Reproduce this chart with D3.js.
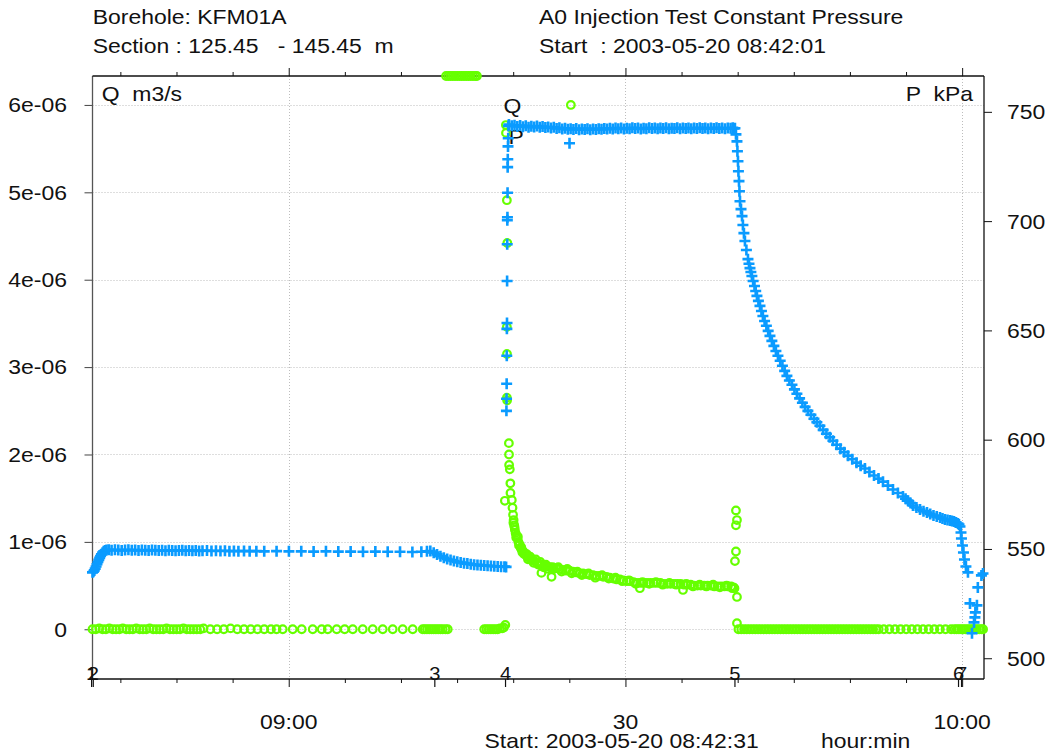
<!DOCTYPE html>
<html>
<head>
<meta charset="utf-8">
<script src="https://cdn.jsdelivr.net/npm/d3@7"></script>
<style>
  html, body { margin: 0; padding: 0; background: #fff; }
  svg { display: block; font-family: "Liberation Sans", Arial, Helvetica, sans-serif; }
  text { white-space: pre; fill: #111; }
</style>
</head>
<body>
<svg id="chart" width="1050" height="755"></svg>
<script>
// ---------------- header / axis text ----------------
const headerLeft = ["Borehole: KFM01A", "Section : 125.45   - 145.45  m"];
const headerRight = ["A0 Injection Test Constant Pressure", "Start  : 2003-05-20 08:42:01"];
const axisStartLabel = "Start: 2003-05-20 08:42:31";
const axisUnitLabel = "hour:min";
const flowAxisTitle = "Q  m3/s";
const pressureAxisTitle = "P  kPa";

// flow axis (left) and pressure axis (right)
const flowTicks = [0, 1e-6, 2e-6, 3e-6, 4e-6, 5e-6, 6e-6];
const flowTickLabels = ["0", "1e-06", "2e-06", "3e-06", "4e-06", "5e-06", "6e-06"];
const pressureTicks = [500, 550, 600, 650, 700, 750];

// test events, minutes after 08:42:31
const eventLabels = ["1", "2", "3", "4", "5", "6", "7"];
const eventMinutes = [-0.08, 0.07, 30.5, 36.8, 57.24, 77.16, 77.43];

// ---------------- flow rate Q [1e-6 m3/s], [minute, value] ----------------
const flowBefore = [
  [0,0],[0.3,0],[0.6,0.01],[0.9,0],[1.2,0],[1.5,0.01],[1.8,0],[2.1,0],[2.4,0],[2.7,0.01],
  [3.0,0],[3.3,0],[3.6,0],[3.9,0.01],[4.2,0],[4.5,0],[4.8,0],[5.1,0.01],[5.4,0],[5.7,0],
  [6.0,0],[6.3,0],[6.6,0.01],[6.9,0],[7.2,0],[7.5,0],[7.8,0],[8.1,0.01],[8.4,0],[8.7,0],
  [9.0,0],[9.3,0],[9.6,0],[9.9,0.01],[10.5,0],[11.1,0],[11.7,0],[12.3,0.01],[12.9,0],[13.5,0],
  [14.1,0],[14.7,0],[15.3,0],[15.9,0],[16.4,0],[16.95,0],[17.84,0],[18.64,0],[19.62,0],[20.42,0],
  [20.96,0],[21.76,0],[22.47,0],[23.19,0],[24.08,0],[24.97,0],[25.86,0],[26.75,0],[27.64,0],[28.53,0],
  [29.42,0],[29.6,0],[29.8,0],[30.0,0],[30.2,0],[30.4,0],[30.6,0],[30.8,0],[31.0,0],[31.2,0],
  [31.45,0],[31.65,0]
];
// readings above the flow range (shown pinned to the upper frame)
const flowOverRange = [
  [31.5,9],[31.7,9],[31.9,9],[32.1,9],[32.3,9],[32.5,9],[32.7,9],[32.9,9],
  [33.1,9],[33.3,9],[33.5,9],[33.7,9],[33.9,9],[34.1,9],[34.25,9]
];
const flowPreInjection = [
  [34.9,0],[35.1,0],[35.3,0],[35.5,0],[35.7,0],[35.9,0],[36.1,0],[36.3,0.01],[36.5,0.01],[36.65,0.02],[36.78,0.05]
];
const flowInjection = [
  [36.83,5.77],[36.84,5.68],[36.92,4.91],[36.96,4.42],[36.92,3.46],[36.93,3.15],[36.92,2.65],[36.94,2.62],
  [37.10,2.13],[37.11,2.00],[37.12,1.88],[37.18,1.83],[37.23,1.67],[37.24,1.56],[36.74,1.47],
  [37.36,1.48],[37.42,1.39],[37.47,1.31],[37.52,1.25],[37.57,1.19],[37.63,1.14],[37.70,1.10],[37.78,1.07],
  [37.86,1.04],[37.95,1.00],[38.05,0.97],[38.15,0.93],[38.25,0.91],[38.38,0.89],[38.50,0.87],[38.62,0.85],
  [38.75,0.83],[38.90,0.82],[39.05,0.80],[39.20,0.79],[39.40,0.78],[39.60,0.76],[39.80,0.75],[40.00,0.645],
  [40.00,0.74],[40.25,0.73],[40.50,0.72],[40.75,0.71],[40.90,0.60],[41.00,0.71],[41.30,0.70],[41.60,0.69],
  [41.90,0.68],[42.20,0.67],[42.50,0.67],[42.62,6.00],[42.80,0.66],[43.10,0.65],[43.40,0.64],[43.70,0.64],
  [44.00,0.63],[44.30,0.62],[44.60,0.62],[44.90,0.61],[45.20,0.61],[45.50,0.60],[45.80,0.60],[46.10,0.59],
  [46.40,0.58],[46.70,0.57],[47.00,0.57],[47.30,0.56],[47.60,0.55],[47.90,0.55],[48.20,0.54],[48.50,0.53],
  [48.77,0.47],[48.80,0.53],[49.10,0.53],[49.40,0.53],[49.70,0.53],[50.00,0.53],[50.30,0.53],[50.60,0.53],
  [50.90,0.52],[51.20,0.52],[51.50,0.52],[51.80,0.52],[52.10,0.52],[52.40,0.52],[52.61,0.45],[52.70,0.51],
  [53.00,0.51],[53.30,0.51],[53.60,0.50],[53.90,0.50],[54.20,0.50],[54.50,0.50],[54.80,0.50],[55.10,0.50],
  [55.40,0.49],[55.70,0.49],[56.00,0.49],[56.30,0.49],[56.60,0.49],[56.90,0.49],[57.10,0.48],[57.20,0.47],
  [57.33,1.36],[57.42,1.25],[57.33,1.19],[57.33,0.89],[57.24,0.78],[57.42,0.37],[57.42,0.07],
  // scattered readings along the decline
  [37.50,1.22],[37.60,1.17],[37.75,1.05],[37.90,1.06],[38.00,0.96],[38.20,0.94],[38.30,0.88],[38.45,0.86],
  [38.70,0.86],[38.80,0.80],[39.00,0.83],[39.30,0.76],[39.50,0.80],[39.70,0.74],[39.90,0.77],[40.20,0.71],
  [40.40,0.74],[40.60,0.69],[41.10,0.69],[41.50,0.71],[41.80,0.66],[42.30,0.69],[42.70,0.64],[43.20,0.66],
  [43.60,0.62],[44.20,0.64],[44.80,0.59],[45.40,0.62],[46.00,0.58],[46.60,0.59],[47.20,0.55],[47.80,0.56],
  [48.40,0.52],[49.00,0.54],[49.60,0.52],[50.20,0.54],[50.80,0.51],[51.40,0.53],[52.00,0.51],[52.90,0.52],
  [53.50,0.49],[54.10,0.51],[54.70,0.49],[55.30,0.51],[55.90,0.48],[56.50,0.50],[57.00,0.47]
];
const flowAfter = [
  [57.55,0],[57.8,0],[58.05,0],[58.3,0],[58.55,0],[58.8,0],[59.05,0],[59.3,0],[59.55,0],[59.8,0],
  [60.05,0],[60.3,0],[60.55,0],[60.8,0],[61.05,0],[61.3,0],[61.55,0],[61.8,0],[62.05,0],[62.3,0],
  [62.55,0],[62.8,0],[63.05,0],[63.3,0],[63.55,0],[63.8,0],[64.05,0],[64.3,0],[64.55,0],[64.8,0],
  [65.05,0],[65.3,0],[65.55,0],[65.8,0],[66.05,0],[66.3,0],[66.55,0],[66.8,0],[67.05,0],[67.3,0],
  [67.55,0],[67.8,0],[68.05,0],[68.3,0],[68.55,0],[68.8,0],[69.05,0],[69.3,0],[69.55,0],[69.8,0],
  [70.05,0],[70.5,0],[71.0,0],[71.5,0],[72.0,0],[72.5,0],[73.0,0],[73.5,0],[74.0,0],[74.5,0],
  [75.0,0],[75.5,0],[76.0,0],[76.5,0],[76.8,0],[77.0,0],[77.2,0],[77.4,0],[77.6,0],[77.8,0],
  [78.0,0],[78.2,0],[78.4,0],[78.6,0],[78.8,0],[79.0,0],[79.2,0],[79.35,0]
];

// ---------------- pressure P [kPa], [minute, value] ----------------
const pressureBefore = [
  [0.00,539.3],[0.08,539.6],[0.16,540.2],[0.24,541.0],[0.32,542.0],[0.40,543.0],[0.48,544.0],[0.56,545.0],
  [0.64,545.9],[0.72,546.8],[0.80,547.6],[0.90,548.3],[1.00,548.9],[1.12,549.3],[1.25,549.5],[1.45,549.6],
  [1.7,549.4],[2.0,549.6],[2.3,549.5],[2.6,549.3],[2.9,549.5],[3.2,549.6],[3.5,549.4],[3.8,549.5],
  [4.1,549.3],[4.4,549.5],[4.7,549.4],[5.0,549.3],[5.3,549.5],[5.6,549.4],[5.9,549.3],[6.2,549.4],
  [6.5,549.2],[6.8,549.4],[7.1,549.3],[7.4,549.2],[7.7,549.3],[8.0,549.4],[8.3,549.2],[8.6,549.3],
  [8.9,549.2],[9.2,549.3],[9.5,549.1],[9.8,549.2],[10.2,549.3],[10.6,549.1],[11.0,549.2],[11.4,549.1],
  [11.8,549.2],[12.2,549.0],[12.6,549.1],[13.0,549.0],[13.5,549.1],[14.0,549.0],[14.6,549.0],[15.3,548.9],
  [16.4,549.0],[17.5,548.9],[18.6,548.9],[19.7,548.8],[20.8,548.9],[21.9,548.8],[23.0,548.8],[24.1,548.7],
  [25.2,548.8],[26.3,548.7],[27.4,548.7],[28.5,548.6],[29.3,548.7],[29.8,548.9],[30.1,549.1],
  [30.4,548.3],[30.7,547.5],[31.0,546.7],[31.3,546.0],[31.6,545.4],[31.9,544.9],[32.2,544.5],[32.5,544.1],
  [32.8,543.8],[33.1,543.5],[33.4,543.3],[33.7,543.0],[34.0,542.8],[34.3,542.7],[34.6,542.5],[34.9,542.4],
  [35.2,542.3],[35.5,542.2],[35.8,542.1],[36.1,542.0],[36.4,541.9],[36.7,541.9],[36.85,541.8]
];
const pressureRise = [
  [36.88,613.2],[36.89,618.7],[36.90,625.6],[36.91,638.4],[36.92,650.7],[36.93,653.4],[36.94,672.6],
  [36.95,689.4],[36.96,700.4],[36.97,701.8],[36.98,713.0],[36.99,724.7],[37.00,728.3],[37.02,734.2],
  [37.04,737.9],[37.06,743.5]
];
const pressureInjection = [
  [37.10,744.2],[37.35,743.6],[37.60,743.9],[37.85,743.3],[38.10,743.7],[38.35,743.2],[38.60,743.6],[38.85,743.0],
  [39.10,743.4],[39.35,743.1],[39.60,743.5],[39.85,742.9],[40.10,743.3],[40.35,742.8],[40.60,743.1],[40.85,742.6],
  [41.10,742.9],[41.35,742.4],[41.60,742.7],[41.85,742.2],[42.10,742.5],[42.35,742.0],[42.50,735.6],[42.60,742.3],
  [42.85,741.9],[43.10,742.4],[43.35,741.8],[43.60,742.2],[43.85,741.9],[44.10,742.3],[44.35,741.8],[44.60,742.1],
  [44.85,741.9],[45.10,742.3],[45.35,742.0],[45.60,742.4],[45.85,742.1],[46.10,742.5],[46.35,742.2],[46.60,742.6],
  [46.85,742.3],[47.10,742.6],[47.35,742.2],[47.60,742.5],[47.85,742.3],[48.10,742.7],[48.35,742.4],[48.60,742.6],
  [48.85,742.2],[49.10,742.5],[49.35,742.3],[49.60,742.7],[49.85,742.4],[50.10,742.6],[50.35,742.3],[50.60,742.6],
  [50.85,742.4],[51.10,742.7],[51.35,742.3],[51.60,742.5],[51.85,742.4],[52.10,742.7],[52.35,742.3],[52.60,742.6],
  [52.85,742.4],[53.10,742.6],[53.35,742.3],[53.60,742.6],[53.85,742.4],[54.10,742.7],[54.35,742.4],[54.60,742.6],
  [54.85,742.3],[55.10,742.6],[55.35,742.4],[55.60,742.7],[55.85,742.4],[56.10,742.6],[56.35,742.3],[56.60,742.6],
  [56.85,742.5],[57.05,742.7],[57.15,742.4]
];
const pressureRecovery = [
  [57.24,742.5],[57.33,739.7],[57.42,736.5],[57.46,732.0],[57.51,727.4],[57.55,722.8],[57.60,718.3],[57.64,713.7],
  [57.69,709.1],[57.78,705.5],[57.87,702.3],[57.95,698.2],[58.04,694.5],[58.13,690.9],[58.26,686.8],[58.40,682.6],
  [58.49,680.5],[58.58,678.5],[58.66,676.7],[58.75,674.9],[58.86,672.6],[58.98,670.3],[59.09,668.0],[59.20,665.8],
  [59.33,663.5],[59.47,661.2],[59.60,658.9],[59.73,656.6],[59.88,654.3],[60.04,652.1],[60.20,649.8],[60.36,647.5],
  [60.53,645.2],[60.71,642.9],[60.89,640.6],[61.07,638.4],[61.27,636.1],[61.47,633.8],[61.67,631.5],[61.87,629.2],
  [62.09,627.1],[62.32,625.1],[62.54,623.0],[62.76,621.0],[63.00,618.9],[63.25,616.9],[63.49,615.0],[63.74,613.2],
  [64.01,611.4],[64.28,609.6],[64.54,608.0],[64.81,606.4],[65.10,604.5],[65.39,602.7],[65.68,601.1],[65.97,599.5],
  [66.30,597.7],[66.64,595.9],[66.97,594.3],[67.31,592.7],[67.69,591.1],[68.07,589.5],[68.44,588.1],[68.82,586.8],
  [69.22,585.2],[69.63,583.6],[70.03,582.2],[70.43,580.8],[70.87,579.0],[71.32,577.2],[71.76,575.6],[72.21,574.0],
  [72.44,573.0],[72.66,572.1],[72.88,571.0],[73.10,569.9],[73.41,569.0],[73.73,568.0],[74.04,567.3],[74.35,566.7],
  [74.64,566.0],[74.93,565.3],[75.22,564.8],[75.51,564.4],[75.73,563.9],[75.95,563.5],[76.18,563.2],[76.40,563.0],
  [76.58,562.8],[76.76,562.6],[76.94,562.1],[77.11,561.6],[77.20,561.2]
];
const pressureEnd = [
  [77.29,560.3],[77.38,557.5],[77.42,554.8],[77.51,551.6],[77.60,548.4],[77.69,545.2],[77.82,542.0],[78.00,539.3],
  [78.18,525.1],[78.36,511.4],[78.54,516.4],[78.62,518.7],[78.66,521.0],[78.80,524.2],[78.88,532.4],[79.20,537.9],
  [79.34,538.8]
];

// ---------------- layout ----------------
const svg = d3.select("#chart");
const plot = { left: 92.5, right: 984, top: 76, bottom: 679 };
const FONT = 20.5, SX = 1.12;            // text is drawn slightly widened
const FLOW_COLOR = "#66ff00", PRESSURE_COLOR = "#0a9bff";

const t0 = new Date(2003, 4, 20, 8, 42, 31);
const at = m => new Date(t0.getTime() + m * 60000);
const x = d3.scaleTime().domain([t0, at(79.43)]).range([plot.left, plot.right]);
const yQ = d3.scaleLinear().domain([-0.569e-6, 6.331e-6]).range([plot.bottom, plot.top]).clamp(true);
const yP = d3.scaleLinear().domain([490.5, 766.4]).range([plot.bottom, plot.top]).clamp(true);

function addText(parent, px, py, str, anchor = "start", size = FONT) {
  const g = parent.append("g").attr("transform", `translate(${px},${py}) scale(${SX},1)`);
  g.append("text").attr("text-anchor", anchor).attr("font-size", size).text(str);
  return g;
}

// headers
addText(svg, 92.7, 24, headerLeft[0]);
addText(svg, 92.7, 53, headerLeft[1]);
addText(svg, 539, 24, headerRight[0]);
addText(svg, 539, 53, headerRight[1]);

// grid
const grid = svg.append("g").attr("stroke", "#bdbdbd").attr("stroke-width", 1).attr("stroke-dasharray", "1,2");
grid.selectAll("line.h").data(flowTicks).join("line").attr("class", "h")
  .attr("x1", plot.left).attr("x2", plot.right)
  .attr("y1", d => Math.round(yQ(d)) + 0.5).attr("y2", d => Math.round(yQ(d)) + 0.5);
const majorTimes = x.ticks(d3.timeMinute.every(30));
grid.selectAll("line.v").data(majorTimes).join("line").attr("class", "v")
  .attr("y1", plot.top).attr("y2", plot.bottom)
  .attr("x1", d => Math.round(x(d)) + 0.5).attr("x2", d => Math.round(x(d)) + 0.5);

// time axes (bottom and top), ticks pointing outward
const minorTimes = x.ticks(d3.timeMinute.every(5)).filter(d => d.getMinutes() % 30 !== 0);
function timeAxis(axisFn, yPos) {
  const g = svg.append("g").attr("transform", `translate(0,${yPos})`);
  g.append("g").call(axisFn(x).tickValues(minorTimes).tickSize(4).tickSizeOuter(0).tickFormat(""))
    .call(s => s.select(".domain").remove());
  g.append("g").call(axisFn(x).tickValues(majorTimes).tickSize(8).tickSizeOuter(0).tickFormat(""))
    .call(s => s.select(".domain").remove());
  g.selectAll("line").attr("stroke", "#111");
}
timeAxis(d3.axisBottom, plot.bottom);
timeAxis(d3.axisTop, plot.top);

const fmtMajor = d => d.getMinutes() === 0 ? d3.timeFormat("%H:%M")(d) : d3.timeFormat("%M")(d);
majorTimes.forEach(d => addText(svg, x(d), 729, fmtMajor(d), "middle"));
addText(svg, 484.5, 748, axisStartLabel);
addText(svg, 821, 748, axisUnitLabel);

// flow axis (left)
const leftAxis = svg.append("g").attr("transform", `translate(${plot.left},0)`)
  .call(d3.axisLeft(yQ).tickValues(flowTicks).tickSize(8).tickFormat(""))
  .call(s => s.select(".domain").remove());
leftAxis.selectAll("line").attr("stroke", "#444");
flowTicks.forEach((d, i) => addText(svg, 67, yQ(d), flowTickLabels[i], "end").select("text").attr("dy", "0.36em"));

// pressure axis (right)
const rightAxis = svg.append("g").attr("transform", `translate(${plot.right},0)`)
  .call(d3.axisRight(yP).tickValues(pressureTicks).tickSize(8).tickFormat(""))
  .call(s => s.select(".domain").remove());
rightAxis.selectAll("line").attr("stroke", "#111");
pressureTicks.forEach(d => addText(svg, 1007, yP(d), String(d)).select("text").attr("dy", "0.36em"));

// frame
const frame = svg.append("g").attr("stroke-width", 1.3).attr("fill", "none");
frame.append("line").attr("x1", plot.left).attr("x2", plot.left).attr("y1", plot.top).attr("y2", plot.bottom).attr("stroke", "#555");
frame.append("line").attr("x1", plot.left).attr("x2", plot.right).attr("y1", plot.top).attr("y2", plot.top).attr("stroke", "#111");
frame.append("line").attr("x1", plot.left).attr("x2", plot.right).attr("y1", plot.bottom).attr("y2", plot.bottom).attr("stroke", "#111");
frame.append("line").attr("x1", plot.right).attr("x2", plot.right).attr("y1", plot.top).attr("y2", plot.bottom).attr("stroke", "#111");

// axis titles inside the frame
addText(svg, 101.7, 101, flowAxisTitle);
addText(svg, 973, 101, pressureAxisTitle, "end");

// event markers on the time axis
const events = eventLabels.map((l, i) => ({ label: l, time: at(eventMinutes[i]) }));
svg.append("g").selectAll("line").data(events).join("line")
  .attr("x1", d => x(d.time)).attr("x2", d => x(d.time))
  .attr("y1", plot.bottom).attr("y2", plot.bottom + 8)
  .attr("stroke", "#111").attr("stroke-width", 1.2);
events.forEach(d => addText(svg, x(d.time), plot.bottom + 1, d.label, "middle", 18));

// series labels at the start of injection
const injStart = at(eventMinutes[3]);
addText(svg, x(injStart) - 2, yQ(6e-6) + 8, "Q");
addText(svg, x(injStart) + 3, yP(735.4), "P");

// flow series (open circles)
const flowAll = [].concat(flowBefore, flowOverRange, flowPreInjection, flowInjection, flowAfter);
svg.append("g").attr("fill", "none").attr("stroke", FLOW_COLOR).attr("stroke-width", 2.2)
  .selectAll("circle").data(flowAll).join("circle")
  .attr("cx", d => x(at(d[0])))
  .attr("cy", d => yQ(d[1] * 1e-6))
  .attr("r", 3.8);

// pressure series (plus markers)
const pressureAll = [].concat(pressureBefore, pressureRise, pressureInjection, pressureRecovery, pressureEnd);
svg.append("g").attr("stroke", PRESSURE_COLOR).attr("stroke-width", 2.6).attr("fill", "none")
  .selectAll("path").data(pressureAll).join("path")
  .attr("transform", d => `translate(${x(at(d[0]))},${yP(d[1])})`)
  .attr("d", "M-5.5,0H5.5M0,-5.5V5.5");
</script>
</body>
</html>
